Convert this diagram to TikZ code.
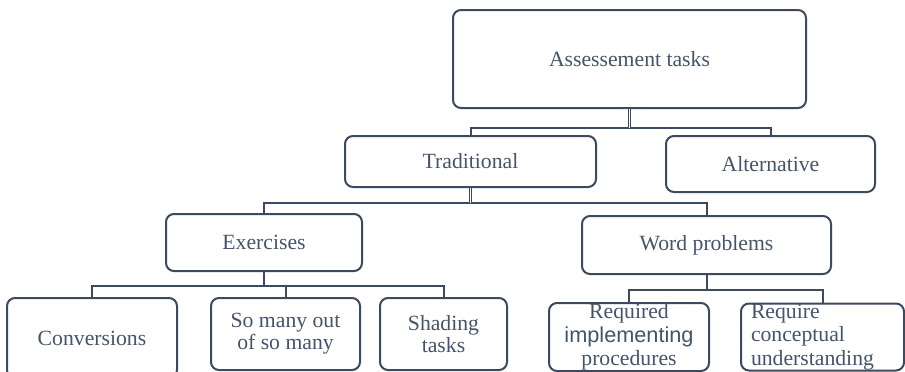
\documentclass[tikz,border=0pt]{standalone}
\usepackage{fontspec}
\setmainfont{Liberation Serif}
\newfontfamily\arialfont{Liberation Sans}
\definecolor{slate}{HTML}{44546A}
\definecolor{slateline}{HTML}{3B4A5E}

\begin{document}
\begin{tikzpicture}[x=1pt,y=-1pt]
  \tikzset{
    task box/.style={
      draw=slateline,
      line width=2pt,
      rounded corners=8pt,
      text=slate,
      align=center,
      inner sep=2pt,
      font=\fontsize{21.7}{22}\selectfont,
    },
    tree link/.style={
      draw=slateline,
      line width=2pt,
    },
    trunk link/.style={
      draw=slateline,
      line width=1pt,
      double=white,
      double distance=1.2pt,
    },
  }
  \clip (0,0) rectangle (905,372);

  % levels, top to bottom
  \node[task box, minimum width=353, minimum height=98] (root) at (629.5,59) {Assessement tasks};
  \node[task box, minimum width=251, minimum height=51] (trad) at (470.5,161.5) {Traditional};
  \node[task box, minimum width=209, minimum height=56] (alt) at (770.5,164) {Alternative};
  \node[task box, minimum width=196, minimum height=57] (exer) at (264,242.5) {Exercises};
  \node[task box, minimum width=249, minimum height=58] (word) at (706.5,245) {Word problems};
  \node[task box, minimum width=170, minimum height=80] (conv) at (92,338) {Conversions};
  \node[task box, minimum width=149, minimum height=72] (somany) at (285.5,334) {So many out\\of so many};
  \node[task box, minimum width=127, minimum height=72] (shade) at (443.5,334) {Shading\\tasks};
  \node[task box, minimum width=160, minimum height=68, inner ysep=0pt,
        font=\fontsize{21.7}{23.5}\selectfont] (proc) at (629,337)
        {Required\\{\arialfont implementing}\\procedures};
  \node[task box, minimum width=163, minimum height=67, inner ysep=0pt,
        align=left, text width=143, font=\fontsize{21.7}{23.5}\selectfont] (concept) at (822.5,337)
        {Require\\conceptual\\understanding};

  % bus lines
  \path (root.south) ++(0,19) coordinate (rootbus);
  \path (trad.south) ++(0,15) coordinate (tradbus);
  \path (exer.south) ++(0,14) coordinate (exerbus);
  \path (word.south) ++(0,15) coordinate (wordbus);

  \draw[tree link] (trad.north) |- (rootbus) -| (alt.north);
  \draw[trunk link] (root.south) -- (rootbus);
  \draw[tree link] (exer.north) |- (tradbus) -| (word.north);
  \draw[trunk link] (trad.south) -- (tradbus);
  \draw[tree link] (conv.north) |- (exerbus) -| (shade.north);
  \draw[tree link] (somany.north) -- (somany.north |- exerbus);
  \draw[tree link] (exer.south) -- (exerbus);
  \draw[tree link] (proc.north) |- (wordbus) -| (concept.north);
  \draw[tree link] (word.south) -- (wordbus);
\end{tikzpicture}
\end{document}
